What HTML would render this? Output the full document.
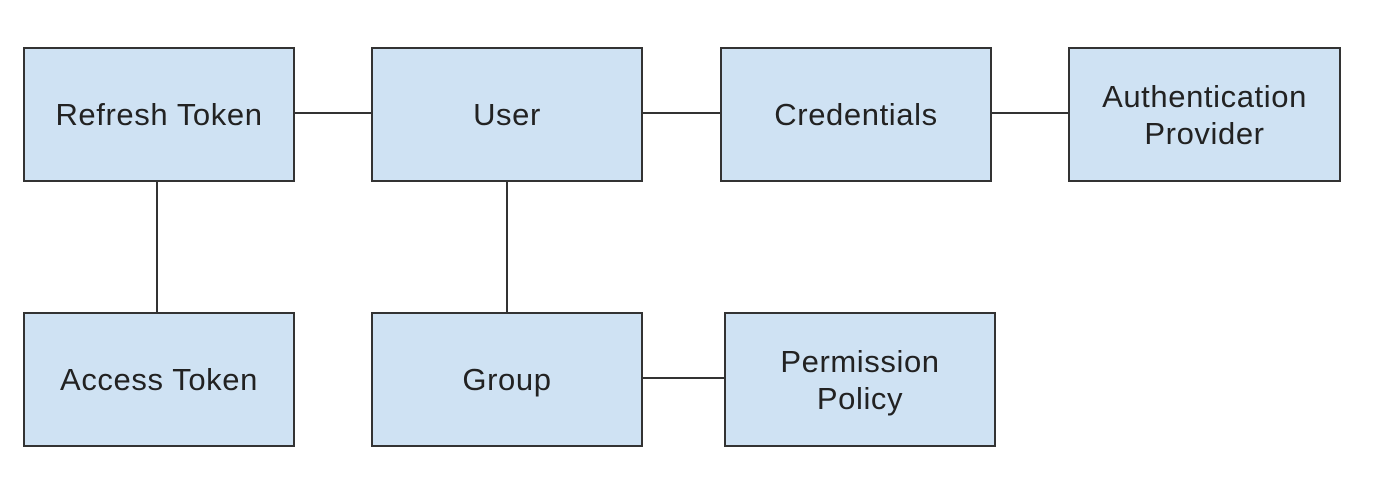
<!DOCTYPE html>
<html><head><style>
body{margin:0;width:1398px;height:494px;background:#fff;position:relative;overflow:hidden;font-family:"Liberation Sans",Arial,sans-serif}
.b{position:absolute;box-sizing:border-box;background:#cfe2f3;border:2px solid #333;display:flex;align-items:center;justify-content:center;text-align:center;font-size:31px;letter-spacing:0.6px;line-height:37px;color:#222;height:135px;width:272px}
.h{position:absolute;height:0;border-top:2px solid #333}
.v{position:absolute;width:0;border-left:2px solid #333}
</style></head><body>
<div class="h" style="left:294px;top:112px;width:77px"></div>
<div class="h" style="left:643px;top:112px;width:77px"></div>
<div class="h" style="left:991px;top:112px;width:77px"></div>
<div class="h" style="left:643px;top:377px;width:81px"></div>
<div class="v" style="left:156px;top:181px;height:131px"></div>
<div class="v" style="left:506px;top:181px;height:131px"></div>
<div class="b" style="left:23px;top:47px">Refresh Token</div>
<div class="b" style="left:371px;top:47px">User</div>
<div class="b" style="left:720px;top:47px">Credentials</div>
<div class="b" style="left:1068px;top:47px;width:273px">Authentication<br>Provider</div>
<div class="b" style="left:23px;top:312px">Access Token</div>
<div class="b" style="left:371px;top:312px">Group</div>
<div class="b" style="left:724px;top:312px">Permission<br>Policy</div>
</body></html>
